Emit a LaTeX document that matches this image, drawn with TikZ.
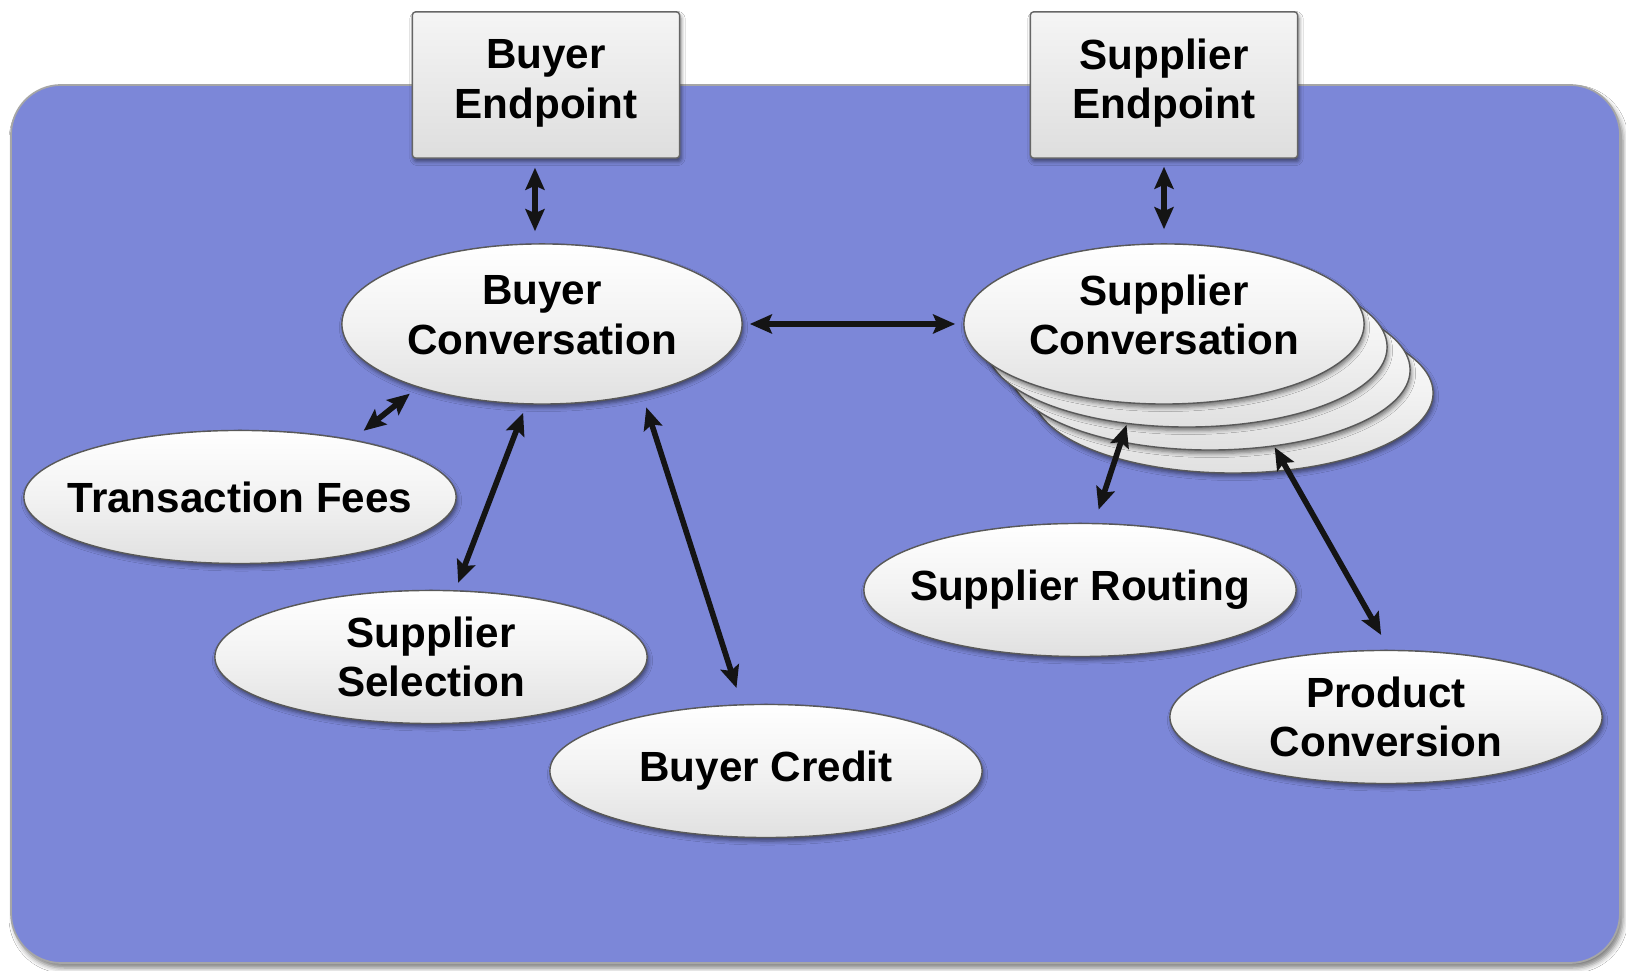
\documentclass[tikz,border=0pt]{standalone}
\usepackage{fontspec}
\setmainfont{Liberation Sans}
\usetikzlibrary{shapes.geometric,arrows.meta,shadows.blur}
\definecolor{panel}{RGB}{124,135,216}
\begin{document}
\begin{tikzpicture}[x=0.01cm,y=-0.01cm,
  every node/.style={font=\fontsize{12}{14}\selectfont\bfseries, text=black, align=center},
  soft/.style={blur shadow={shadow xshift=0.015cm, shadow yshift=-0.035cm,
      shadow blur radius=0.04cm, shadow opacity=50}},
  bubble/.style={ellipse, draw=black!65, line width=0.4pt, inner ysep=0pt, inner xsep=-0.3cm,
      minimum width=4.32cm, minimum height=1.33cm,
      top color=white, bottom color=white!88!black, middle color=white!95!black, soft},
  conv/.style={bubble, minimum width=4.0cm, minimum height=1.6cm, text depth=0.18cm},
  endbox/.style={rectangle, rounded corners=0.03cm, draw=black!60, line width=0.4pt,
      minimum width=2.67cm, minimum height=1.46cm, text depth=0.12cm,
      top color=white!96!black, bottom color=white!87!black, soft},
  arr/.style={{Stealth[length=0.22cm,width=0.19cm,inset=0.04cm]}-{Stealth[length=0.22cm,width=0.19cm,inset=0.04cm]},
      line width=1.6pt, black!92}
]
\useasboundingbox (0,0) rectangle (1626,971);
\fill[white] (0,0) rectangle (1626,971);

% blue panel
\filldraw[fill=panel, draw=gray!70, line width=0.5pt, rounded corners=0.5cm,
  blur shadow={shadow xshift=0.03cm, shadow yshift=-0.05cm, shadow blur radius=0.05cm, shadow opacity=50}]
  (11,85) rectangle (1620,963);

% endpoints
\node[endbox] (bep) at (546,85) {Buyer\\Endpoint};
\node[endbox] (sep) at (1164,85) {Supplier\\Endpoint};

% conversations
\node[conv] (bconv) at (542,324) {Buyer\\Conversation};
\node[conv, text depth=0pt] (sconv3) at (1233,393) {};
\node[conv, text depth=0pt] (sconv2) at (1210,370) {};
\node[conv, text depth=0pt] (sconv1) at (1187,347) {};
\node[conv] (sconv) at (1164,324) {Supplier\\Conversation};

% services
\node[bubble] (tfees) at (240,497) {Transaction Fees};
\node[bubble] (ssel) at (431,657) {Supplier\\Selection};
\node[bubble] (bcredit) at (766,771) {Buyer Credit};
\node[bubble] (srout) at (1080,590) {Supplier Routing};
\node[bubble] (pconv) at (1386,717) {Product\\Conversion};

% connectors
\draw[arr, shorten <=0.09cm, shorten >=0.12cm] ([xshift=-0.11cm]bep.south) -- ([xshift=-0.07cm]bconv.north);
\draw[arr, shorten <=0.08cm, shorten >=0.14cm] (sep.south) -- (sconv.north);
\draw[arr, shorten <=0.07cm, shorten >=0.08cm] (bconv.east) -- (sconv.west);
\draw[arr, shorten <=0.10cm, shorten >=0.14cm] (bconv.207) -- (tfees.27);
\draw[arr, shorten <=0.09cm, shorten >=0.08cm] (bconv.259) -- (ssel.70);
\draw[arr, shorten <=0.14cm, shorten >=0.17cm] (bconv.325) -- (bcredit.110);
\draw[arr, shorten <=0.01cm, shorten >=0.14cm] (sconv1.232) -- (srout.78);
\draw[arr, shorten <=0.01cm, shorten >=0.17cm] (sconv2.310) -- (pconv.87);
\end{tikzpicture}
\end{document}
